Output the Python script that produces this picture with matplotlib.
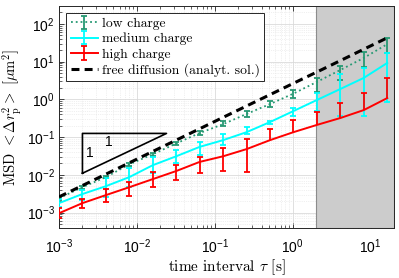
import numpy as np
import matplotlib
matplotlib.use("Agg")
import matplotlib.pyplot as plt

plt.rcParams['font.family'] = ['Liberation Sans', 'DejaVu Sans']
plt.rcParams['mathtext.fontset'] = 'custom'
plt.rcParams['mathtext.rm'] = 'Liberation Sans'
plt.rcParams['mathtext.it'] = 'Liberation Sans:italic'
plt.rcParams['mathtext.bf'] = 'Liberation Sans:bold'

# lag times [s]
tau = [0.001, 0.002, 0.004, 0.008, 0.016, 0.032, 0.064, 0.128, 0.256,
       0.512, 1.024, 2.048, 4.096, 8.192, 16.384]

# low charge: mean MSD, lower / upper end of the error bar [um^2]
low_msd = [2.4e-3, 4.7e-3, 8.7e-3, 0.019, 0.035, 0.068, 0.128, 0.22, 0.41,
           0.75, 1.42, 2.9, 6.0, 12.5, 29]
low_lo = [2.2e-3, 4.3e-3, 8.0e-3, 0.0175, 0.032, 0.061, 0.113, 0.195, 0.34,
          0.62, 1.08, 1.61, 3.25, 7.2, 17]
low_hi = [2.6e-3, 5.1e-3, 9.4e-3, 0.0205, 0.038, 0.075, 0.144, 0.265, 0.49,
          0.90, 1.82, 3.6, 7.6, 18, 42]

# medium charge
med_msd = [1.78e-3, 3.1e-3, 5.0e-3, 8.7e-3, 0.018, 0.031, 0.055, 0.083, 0.135,
           0.25, 0.49, 0.96, 1.88, 3.7, 9.2]
med_lo = [1.4e-3, 2.1e-3, 2.6e-3, 4.7e-3, 0.011, 0.020, 0.033, 0.061, 0.12,
          0.22, 0.36, 0.49, 0.36, 0.36, 0.85]
med_hi = [2.3e-3, 3.9e-3, 8.2e-3, 0.015, 0.029, 0.045, 0.074, 0.12, 0.18,
          0.26, 0.59, 1.47, 4.7, 6.8, 17]

# high charge (lower ends below zero are not drawn on the log axis)
high_msd = [9.6e-4, 1.78e-3, 2.9e-3, 4.7e-3, 7.7e-3, 0.0126, 0.022, 0.031, 0.048,
            0.083, 0.135, 0.21, 0.32, 0.52, 1.08]
high_lo = [7.1e-4, 1.3e-3, 1.9e-3, 2.7e-3, 4.7e-3, 7.2e-3, 0.011, 0.013, 0.0118,
           np.nan, np.nan, np.nan, np.nan, np.nan, np.nan]
high_hi = [1.3e-3, 2.3e-3, 4.2e-3, 6.3e-3, 0.0117, 0.018, 0.029, 0.051, 0.089,
           0.16, 0.28, 0.46, 0.8, 1.47, 3.7]

# free diffusion, analytical solution
free_msd = [2.6e-3, 5.2e-3, 0.0104, 0.0208, 0.0416, 0.083, 0.166, 0.333, 0.666,
            1.33, 2.66, 5.3, 10.6, 21.3, 42.6]

# slope triangle and shaded region
tri_x = [0.002, 0.002, 0.024, 0.002]
tri_y = [0.011, 0.125, 0.125, 0.011]
shade = (2.0, 20.0)

fig = plt.figure(figsize=(3.99, 2.78), dpi=100)
ax = fig.add_axes([59 / 399, 50 / 278, 335 / 399, 222 / 278])
ax.set_xscale('log')
ax.set_yscale('log')
ax.set_xlim(1e-3, 20)
ax.set_ylim(3.9e-4, 297)

ax.set_axisbelow(True)
ax.grid(True, which='major', color='#dadada', lw=0.6)
ax.grid(True, which='minor', color='#e2e2e2', lw=0.5, ls=':')
ax.axvspan(*shade, facecolor='#cccccc', edgecolor='#8c8c8c', lw=0.8, zorder=1)

t = np.array(tau)
series = [
    (low_msd, low_lo, low_hi, '#269973', ':', 1.3, 'low charge'),
    (med_msd, med_lo, med_hi, 'cyan', '-', 1.4, 'medium charge'),
    (high_msd, high_lo, high_hi, 'red', '-', 1.4, 'high charge'),
]
handles = []
for msd, lo, hi, col, ls, lw, lab in series:
    y = np.array(msd)
    lo = np.array(lo)
    hi = np.array(hi)
    ok = ~np.isnan(lo)
    lo_eff = np.where(ok, lo, y)
    cont = ax.errorbar(t, y, yerr=[y - lo_eff, hi - y], color=col, ls=ls,
                       lw=lw, elinewidth=1.3, capsize=2.5, capthick=1.3,
                       label=lab, zorder=3)
    cont[1][0].set_data(t[ok], lo[ok])
    handles.append(cont)

free_line, = ax.plot(t, free_msd, color='black', lw=2.2, dashes=(2.6, 1.7),
                     label='free diffusion (analyt. sol.)', zorder=4)
handles.append(free_line)

ax.plot(tri_x, tri_y, color='black', lw=1.2, zorder=3)
ax.text(0.0025, 0.037, '1', fontsize=10, ha='center', va='center')
ax.text(0.0043, 0.075, '1', fontsize=10, ha='center', va='center')

ax.tick_params(which='both', direction='in', top=True, right=True,
               color='#262626', labelsize=10)
ax.tick_params(axis='x', which='major', pad=7)
ax.tick_params(axis='y', which='major', pad=3)
ax.tick_params(which='major', length=3.5, width=0.6)
ax.tick_params(which='minor', length=2, width=0.5)
for s in ax.spines.values():
    s.set_color('#262626')
    s.set_linewidth(0.7)

ax.set_xlabel(r'time interval $\tau$ [s]', fontsize=11, family='cmr10',
              math_fontfamily='cm', labelpad=1)
ax.set_ylabel(r'MSD $<\Delta r_\mathrm{p}^2>$ [$\mu$m$^2$]', fontsize=10.5,
              family='cmr10', math_fontfamily='cm', labelpad=2)

leg = ax.legend(handles=handles, loc='upper left',
                prop={'family': 'cmr10', 'size': 9.8},
                fancybox=False, framealpha=1, edgecolor='#262626',
                borderaxespad=0.55, handlelength=2.0, handletextpad=0.3,
                labelspacing=0.2, borderpad=0.3)
leg.get_frame().set_linewidth(0.7)

fig.savefig('out.png', dpi=100)
